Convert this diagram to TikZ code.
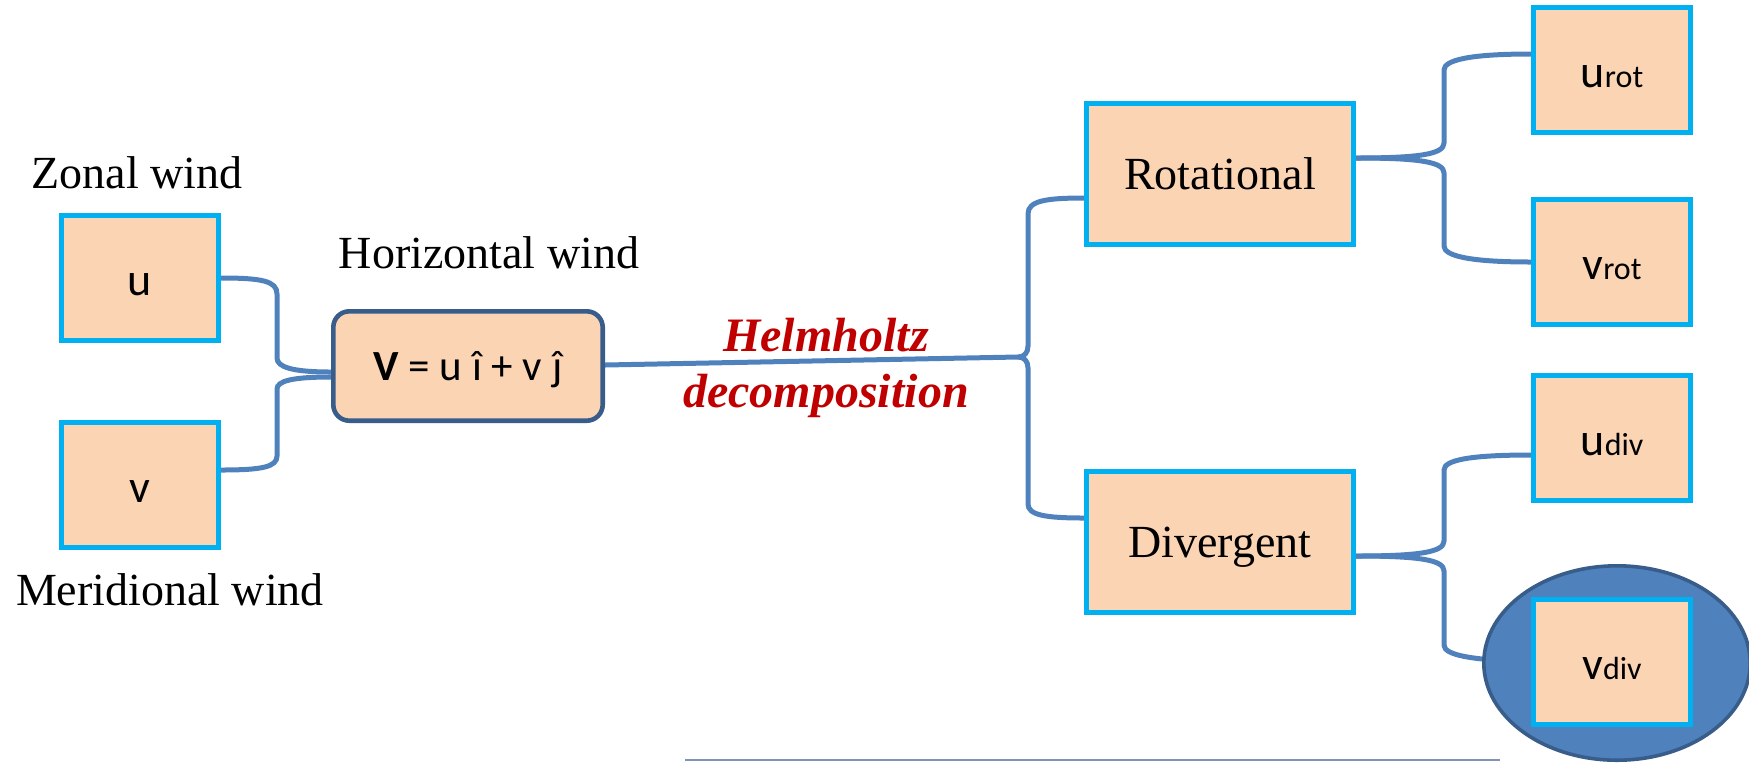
\documentclass[tikz,border=0pt]{standalone}
\usepackage{fontspec}
\setmainfont{Liberation Serif}
\newfontfamily\carl{Carlito}
\usetikzlibrary{shapes.geometric}
\definecolor{peach}{HTML}{FBD4B4}
\definecolor{cyanb}{HTML}{00B0F0}
\definecolor{connblue}{HTML}{4F81BD}
\definecolor{darkb}{HTML}{385D8A}
\definecolor{hred}{HTML}{C00000}
\definecolor{lineg}{HTML}{8294B4}
\newcommand\smallpart[1]{{\fontsize{16}{18}\selectfont #1}}
\pgfdeclarelayer{wires}
\pgfdeclarelayer{blob}
\pgfsetlayers{wires,blob,main}
\tikzset{
  sbox/.style={draw=cyanb, fill=peach, line width=2.4pt, inner sep=0pt,
    minimum width=78.6pt, minimum height=62.6pt,
    font=\carl\fontsize{23}{27}\selectfont, text height=17pt, text depth=0pt},
  bbox/.style={draw=cyanb, fill=peach, line width=2.4pt, inner sep=0pt,
    minimum width=133.6pt, minimum height=70.6pt,
    font=\fontsize{23}{27}\selectfont, text depth=0pt},
  cbox/.style={draw=darkb, fill=peach, line width=2.3pt, rounded corners=8pt, inner sep=0pt,
    minimum width=134.7pt, minimum height=54.7pt,
    font=\carl\fontsize{21.5}{25}\selectfont, text height=14pt, text depth=0pt},
  lab/.style={inner sep=0pt, font=\fontsize{23}{27}\selectfont, anchor=base},
  redlab/.style={inner sep=0pt, font=\fontsize{24}{28}\selectfont\bfseries\itshape, text=hred, anchor=base},
  wire/.style={draw=connblue, line width=2.5pt},
  blobstyle/.style={ellipse, fill=connblue, draw=darkb, line width=1.8pt, inner sep=0pt,
    minimum width=133.2pt, minimum height=97.2pt},
}
\begin{document}
\begin{tikzpicture}[x=0.5pt,y=-0.5pt]
\useasboundingbox (0,0) rectangle (1749,762);
\clip (0,0) rectangle (1749,762);

% labels
\node[lab] (zw) at (137,188) {Zonal wind};
\node[lab] (hw) at (489,268) {Horizontal wind};
\node[lab] (mw) at (170,605) {Meridional wind};
\node[redlab] (h1) at (826,351) {Helmholtz};
\node[redlab] (h2) at (826,407) {decomposition};

% boxes
\node[sbox] (u) at (140,278) {u};
\node[sbox] (v) at (140,485) {v};
\node[cbox] (cb) at (468,366) {{\bfseries V} = u î + v ĵ};
\node[bbox] (rot) at (1220,174) {Rotational};
\node[bbox] (div) at (1220,542) {Divergent};
\node[sbox] (urot) at (1612,70) {u\smallpart{rot}};
\node[sbox] (vrot) at (1612,262) {v\smallpart{rot}};
\node[sbox] (udiv) at (1612,438) {u\smallpart{div}};
\node[sbox] (vdiv) at (1612,662) {v\smallpart{div}};
\coordinate (hc) at (1018,357);

\begin{pgfonlayer}{blob}
\node[blobstyle] (blob) at (1617,663) {};
\end{pgfonlayer}

\begin{pgfonlayer}{wires}
% left brace
\draw[wire] (u.east) .. controls (262,278) and (277,281) .. (277,294) -- (277,358)
  .. controls (277,367) and (292,372) .. ([yshift=-3pt]cb.west);
\draw[wire] ([yshift=7.5pt]v.east) .. controls (262,470) and (277,467) .. (277,456) -- (277,389)
  .. controls (277,381) and (292,377) .. ([yshift=-5.5pt]cb.west);
% main line
\draw[wire] ([yshift=0.5pt]cb.east) -- (hc);
% brace to rotational / divergent
\draw[wire] ([yshift=-12pt]rot.west) .. controls (1045,198) and (1028,201) .. (1028,214) -- (1028,346)
  .. controls (1028,353) and (1024,357) .. (hc);
\draw[wire] ([yshift=12pt]div.west) .. controls (1045,518) and (1028,515) .. (1028,504) -- (1028,368)
  .. controls (1028,361) and (1024,357) .. (hc);
% rotational branches
\draw[wire] ([yshift=8pt]rot.east) .. controls (1420,158) and (1444,154) .. (1444,143) -- (1444,70)
  .. controls (1444,60) and (1470,54) .. ([yshift=8pt]urot.west);
\draw[wire] ([yshift=8pt]rot.east) .. controls (1420,158) and (1444,162) .. (1444,173) -- (1444,246)
  .. controls (1444,256) and (1470,262) .. (vrot.west);
% divergent branches
\draw[wire] ([yshift=-7pt]div.east) .. controls (1420,556) and (1444,552) .. (1444,541) -- (1444,470)
  .. controls (1444,460) and (1470,455) .. ([yshift=-8.5pt]udiv.west);
\draw[wire] ([yshift=-7pt]div.east) .. controls (1420,556) and (1444,560) .. (1444,571) -- (1444,645)
  .. controls (1444,655) and (1470,660) .. (vdiv.west);
\end{pgfonlayer}

% bottom edge line
\draw[lineg, line width=1.2pt] (685,760) -- (1500,760);
\end{tikzpicture}
\end{document}
